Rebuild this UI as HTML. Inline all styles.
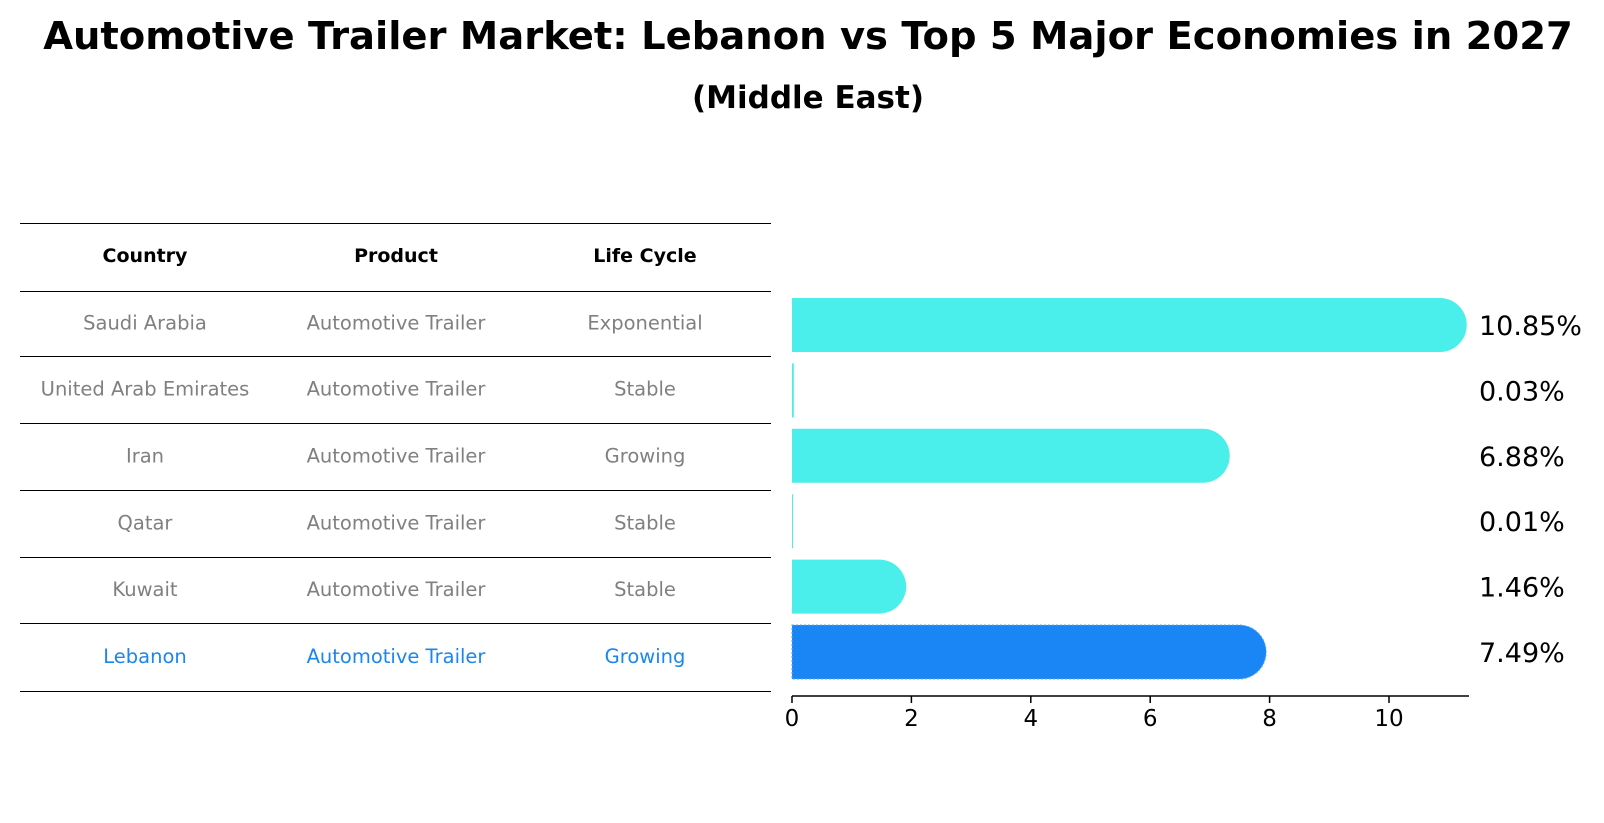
<!DOCTYPE html>
<html><head><meta charset="utf-8"><style>
body{margin:0;background:#fff;font-family:"DejaVu Sans","Liberation Sans",sans-serif}
#wrap{position:relative;width:1604px;height:823px;overflow:hidden}
.t{position:absolute;white-space:nowrap}
</style></head><body>
<div id="wrap">
<div class="t" style="left:0;width:1616px;text-align:center;top:14px;font-size:38.5px;font-weight:bold">Automotive Trailer Market: Lebanon vs Top 5 Major Economies in 2027</div>
<div class="t" style="left:0;width:1616px;text-align:center;top:80px;font-size:31px;font-weight:bold">(Middle East)</div>
<svg id="svg" width="1604" height="823" style="position:absolute;left:0;top:0"></svg>
</div>
<script>
const countries=["Saudi Arabia","United Arab Emirates","Iran","Qatar","Kuwait","Lebanon"];
const products=["Automotive Trailer","Automotive Trailer","Automotive Trailer","Automotive Trailer","Automotive Trailer","Automotive Trailer"];
const lifeCycles=["Exponential","Stable","Growing","Stable","Stable","Growing"];
const values=[10.85,0.03,6.88,0.01,1.46,7.49];
const ticks=[0,2,4,6,8,10];
const NS="http://www.w3.org/2000/svg";
const svg=document.getElementById('svg');
function mk(t,a,txt){const e=document.createElementNS(NS,t);for(const k in a)e.setAttribute(k,a[k]);if(txt!==undefined)e.textContent=txt;svg.appendChild(e);return e;}
const x0=792,pxu=59.7,bh=54,rowY0=325,rowStep=65.4;
const xs=v=>x0+v*pxu, ys=i=>rowY0+i*rowStep;
const lineYs=[223,291,356,423,490,557,623,691];
lineYs.forEach((y,i)=>{const l=mk('line',{x1:20,x2:771,y1:y+0.5,y2:y+0.5,stroke:'#000','stroke-width':1});

});
const colX=[145,396,645];
["Country","Product","Life Cycle"].forEach((h,j)=>{const t=mk('text',{x:colX[j],y:262,'text-anchor':'middle','font-size':'19','font-weight':'bold'},h);

});
countries.forEach((c,i)=>{const y=(lineYs[i+1]+lineYs[i+2])/2+6;const col=i==5?'#1a86f0':'#808080';
[c,products[i],lifeCycles[i]].forEach((v,j)=>{const t=mk('text',{x:colX[j],y:y,'text-anchor':'middle','font-size':'19.5',fill:col},v);

});});
values.forEach((v,i)=>{const yc=ys(i),r=bh/2,xe=xs(v);const col=i==5?'#1a86f5':'#4aeeea';
let d;if(v*pxu<3){d=`M${x0} ${yc-r}h${Math.max(1,v*pxu)}v${bh}h${-Math.max(1,v*pxu)}z`;}else{d=`M${x0} ${yc-r}H${xe}A${r} ${r} 0 0 1 ${xe} ${yc+r}H${x0}Z`;}
const p=mk('path',{d:d,fill:col});
if(i==5){p.setAttribute('stroke','#5aa8f0');p.setAttribute('stroke-dasharray','2 2');p.setAttribute('stroke-width','1');}


const t=mk('text',{x:1479,y:yc+10,'font-size':'27'},v.toFixed(2)+'%');

});
const ax=mk('line',{x1:x0,x2:1469,y1:696,y2:696,stroke:'#000','stroke-width':1.5});


ticks.forEach(t=>{const l=mk('line',{x1:xs(t),x2:xs(t),y1:696,y2:703,stroke:'#000','stroke-width':1.5});


const tx=mk('text',{x:xs(t),y:726,'text-anchor':'middle','font-size':'23'},String(t));

});
</script>
</body></html>
